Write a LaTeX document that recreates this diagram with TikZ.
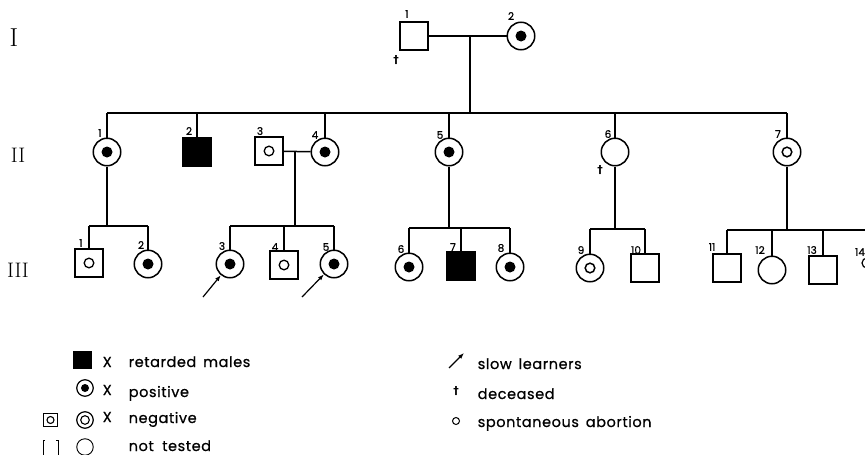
\documentclass[tikz,border=0pt]{standalone}
\usepackage{fontspec}
\usetikzlibrary{arrows.meta}
\setmainfont{Poppins}
\newfontfamily\legfont[LetterSpace=4,FakeBold=0.7]{Poppins}
\newfontfamily\numfont[FakeBold=0.6]{Poppins}
\newfontfamily\lmfont{Latin Modern Roman}
\newfontfamily\djfont{DejaVu Sans}
\begin{document}
\begin{tikzpicture}[x=1pt,y=-1pt,
  every path/.style={line width=1.5pt},
  male/.style={draw,line width=1.2pt,rectangle,minimum size=28pt,inner sep=0pt},
  female/.style={draw,line width=1.5pt,circle,minimum size=27.5pt,inner sep=0pt},
  posf/.style={female,path picture={\fill (path picture bounding box.center) circle (5.5pt);}},
  negf/.style={female,path picture={\draw[line width=1.5pt] (path picture bounding box.center) circle (4.8pt);}},
  negm/.style={male,path picture={\draw[line width=1.3pt] (path picture bounding box.center) circle (4.8pt);}},
  affected/.style={male,fill=black},
  abort/.style={draw,line width=1.2pt,circle,minimum size=10pt,inner sep=0pt},
  num/.style={font=\numfont\fontsize{10.5}{10.5}\selectfont,inner sep=0pt},
  gen/.style={font=\lmfont\fontsize{21}{21}\selectfont,inner sep=0pt},
  dag/.style={font=\djfont\bfseries\fontsize{11}{11}\selectfont,inner sep=0pt},
  leg/.style={font=\legfont\fontsize{14.5}{14.5}\selectfont,anchor=base west,inner sep=0pt},
  slow/.style={-{Latex[length=6pt,width=4.5pt]},line width=1.2pt}
]
\useasboundingbox (0,0) rectangle (865,455);

% generation labels
\node[gen,font=\lmfont\fontsize{26}{26}\selectfont] (gI) at (14,38) {I};
\node[gen] (gII) at (18,155) {II};
\node[gen] (gIII) at (18,270) {III};

% Generation I
\node[male] (I1) at (414,36) {};
\node[posf] (I2) at (521,36) {};
\node[num] (nI1) at (407,14) {1};
\node[num] (nI2) at (511,16) {2};
\node[dag] (dI1) at (396,60) {†};
\draw (I1) -- (I2);
\coordinate (m1) at (470,36);
\coordinate (s2) at (470,113);
\draw (m1) -- (s2);

% Generation II
\node[posf] (II1) at (107,152) {};
\node[affected] (II2) at (197,152) {};
\node[negm] (II3) at (269,151) {};
\node[posf] (II4) at (325,152) {};
\node[posf] (II5) at (449,152) {};
\node[female] (II6) at (615,152) {};
\node[negf] (II7) at (787,152) {};
\node[num] (nII1) at (100,133) {1};
\node[num] (nII2) at (189,131) {2};
\node[num] (nII3) at (260,131) {3};
\node[num] (nII4) at (315,135) {4};
\node[num] (nII5) at (440,135) {5};
\node[num] (nII6) at (608,134) {6};
\node[num] (nII7) at (778,134) {7};
\node[dag] (dII6) at (600,170) {†};
\draw (II1 |- s2) -- (II7 |- s2);
\foreach \n in {II1,II2,II4,II5,II6,II7} \draw (\n) -- (\n |- s2);
\draw (II3) -- (II4);
\coordinate (m2) at (295,152);

% Generation III
\coordinate (s3a) at (107,226);
\coordinate (s3b) at (295,226);
\coordinate (s3c) at (449,228);
\coordinate (s3d) at (615,229);
\coordinate (s3e) at (787,230);
\node[negm] (III1) at (89,263) {};
\node[posf] (III2) at (148,264) {};
\node[posf] (III3) at (230,264) {};
\node[negm] (III4) at (284,265) {};
\node[posf] (III5) at (334,264) {};
\node[posf] (III6) at (409,267) {};
\node[affected] (III7) at (461,266) {};
\node[posf] (III8) at (510,267) {};
\node[negf] (III9) at (590,268) {};
\node[male] (III10) at (645,268) {};
\node[male] (III11) at (727,268) {};
\node[female] (III12) at (772,270) {};
\node[male] (III13) at (823,270) {};
\node[abort] (III14) at (867,263) {};

\node[num] (nIII1) at (81,243) {1};
\node[num] (nIII2) at (141,245) {2};
\node[num] (nIII3) at (222,246) {3};
\node[num] (nIII4) at (275,247) {4};
\node[num] (nIII5) at (326,247) {5};
\node[num] (nIII6) at (401,249) {6};
\node[num] (nIII7) at (453,247) {7};
\node[num] (nIII8) at (501,248) {8};
\node[num] (nIII9) at (581,250) {9};
\node[num] (nIII10) at (636,250) {10};
\node[num] (nIII11) at (712,247) {11};
\node[num] (nIII12) at (760,250) {12};
\node[num] (nIII13) at (812,250) {13};
\node[num] (nIII14) at (860,252) {14};

% descent lines
\draw (II1) -- (s3a);
\draw (m2) -- (s3b);
\draw (II5) -- (s3c);
\draw (II6) -- (s3d);
\draw (II7) -- (s3e);
% sibship lines
\draw (III1 |- s3a) -- (III2 |- s3a);
\draw (III3 |- s3b) -- (III5 |- s3b);
\draw (III6 |- s3c) -- (III8 |- s3c);
\draw (III9 |- s3d) -- (III10 |- s3d);
\draw (III11 |- s3e) -- ([xshift=10pt]III14 |- s3e);
\foreach \n in {III1,III2} \draw (\n) -- (\n |- s3a);
\foreach \n in {III3,III4,III5} \draw (\n) -- (\n |- s3b);
\foreach \n in {III6,III7,III8} \draw (\n) -- (\n |- s3c);
\foreach \n in {III9,III10} \draw (\n) -- (\n |- s3d);
\foreach \n in {III11,III12,III13} \draw (\n) -- (\n |- s3e);

% slow learner arrows
\coordinate (a3) at (203,297);
\coordinate (a5) at (302,297);
\draw[slow] (a3) -- (III3);
\draw[slow] (a5) -- (III5);

% Legend left
\node[draw,fill=black,minimum width=17pt,minimum height=16pt,inner sep=0pt] (Lsq) at (82.5,360) {};
\node[draw,line width=1.2pt,circle,minimum size=16.5pt,inner sep=0pt,
  path picture={\fill (path picture bounding box.center) circle (4pt);}] (Lpos) at (85,388) {};
\node[draw,line width=1pt,rectangle,minimum size=13.5pt,inner sep=0pt,
  path picture={\draw[line width=1.1pt] (path picture bounding box.center) circle (3.5pt);}] (Lnegm) at (50.5,420) {};
\node[draw,line width=1.2pt,circle,minimum size=16.5pt,inner sep=0pt,
  path picture={\draw[line width=1.1pt] (path picture bounding box.center) circle (4.3pt);}] (Lneg) at (85,420) {};
\node[minimum size=13.5pt,inner sep=0pt] (Lnt) at (50.5,448) {};
\draw[line width=0.8pt] ([xshift=2pt]Lnt.north west) -- (Lnt.north west) -- (Lnt.south west) -- ([xshift=2pt]Lnt.south west);
\draw[line width=0.8pt] ([xshift=-2pt]Lnt.north east) -- (Lnt.north east) -- (Lnt.south east) -- ([xshift=-2pt]Lnt.south east);
\node[draw,line width=0.9pt,circle,minimum size=16.5pt,inner sep=0pt] (Lfem) at (85,447) {};

\node[leg] (X1) at (102,367) {X};
\node[leg] (X2) at (102,395) {X};
\node[leg] (X3) at (102,422) {X};
\node[leg] (t1) at (128,367) {retarded\, males};
\node[leg] (t2) at (128,397) {positive};
\node[leg] (t3) at (128,423) {negative};
\node[leg,text depth=0pt] (t4) at (128,451) {not\; tested};

% Legend right
\coordinate (La1) at (449,368);
\coordinate (La2) at (464,353);
\draw[slow] (La1) -- (La2);
\node[leg] (t5) at (477,369) {slow\, learners};
\node[dag] (Ldag) at (456,391) {†};
\node[leg] (t6) at (477,399) {deceased};
\node[abort,line width=1pt,minimum size=7pt] (Lab) at (456,421) {};
\node[leg] (t7) at (477,427) {spontaneous\, abortion};
\end{tikzpicture}
\end{document}
